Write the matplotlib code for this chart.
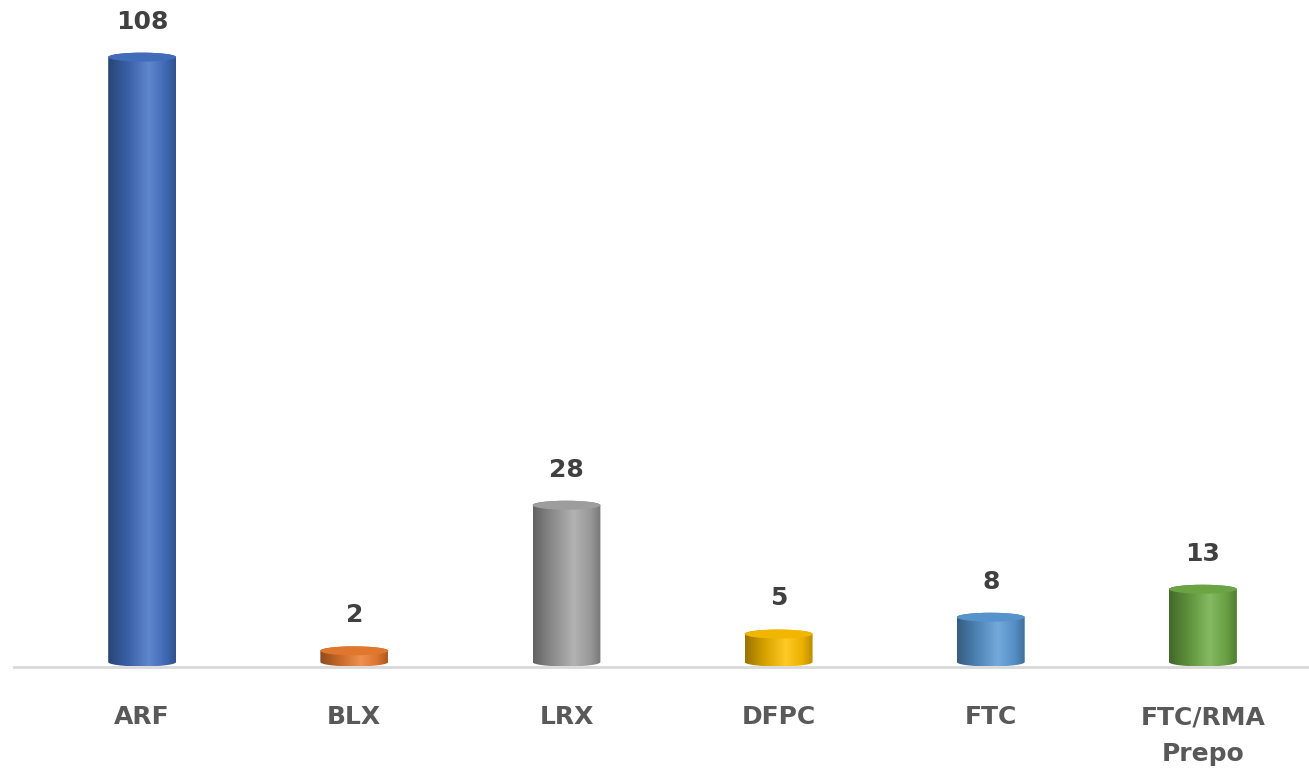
import numpy as np
import matplotlib
matplotlib.use("Agg")
import matplotlib.pyplot as plt
from matplotlib.path import Path
from matplotlib.patches import Ellipse, PathPatch
from matplotlib.colors import LinearSegmentedColormap

categories = ["ARF", "BLX", "LRX", "DFPC", "FTC", "FTC/RMA\nPrepo"]
values = [108, 2, 28, 5, 8, 13]
base_colors = ["#4472C4", "#ED7D31", "#A5A5A5", "#FFC000", "#5B9BD5", "#70AD47"]

W, H = 1309, 773
fig = plt.figure(figsize=(W / 100, H / 100), dpi=100)
ax = fig.add_axes([14 / W, (H - 667) / H, 1295 / W, 667 / H])
ymin, ymax = -0.89, 118.2
xmin, xmax = -0.604, 5.5
ax.set_xlim(xmin, xmax)
ax.set_ylim(ymin, ymax)

bw = 0.32          # bar width in category units
eh = 1.6           # ellipse height in data units


def shade(hexc, f):
    c = np.array(matplotlib.colors.to_rgb(hexc))
    if f < 1:
        return tuple(c * f)
    return tuple(c + (1 - c) * (f - 1))


for i, (v, col) in enumerate(zip(values, base_colors)):
    x0, x1 = i - bw / 2, i + bw / 2
    a, b = bw / 2, eh / 2
    t = np.linspace(np.pi, 2 * np.pi, 60)
    bx = i + a * np.cos(t)
    by = 0 + b * np.sin(t)
    t2 = np.linspace(0, np.pi, 60)
    tx = i + a * np.cos(t2)
    ty = v + b * np.sin(t2)
    verts = [(x0, v), (x0, 0)] + list(zip(bx, by)) + [(x1, 0), (x1, v)] + list(zip(tx, ty))
    path = Path(verts + [verts[0]], [Path.MOVETO] + [Path.LINETO] * (len(verts) - 1) + [Path.CLOSEPOLY])
    cmap = LinearSegmentedColormap.from_list(
        "c%d" % i,
        [(0.0, shade(col, 0.6)), (0.3, shade(col, 0.85)), (0.6, shade(col, 1.15)),
         (0.85, shade(col, 0.92)), (1.0, shade(col, 0.72))])
    grad = np.linspace(0, 1, 256).reshape(1, -1)
    im = ax.imshow(grad, cmap=cmap, extent=(x0, x1, -b, v + b), aspect="auto",
                   origin="lower", zorder=3, interpolation="bilinear")
    patch = PathPatch(path, transform=ax.transData, facecolor="none", edgecolor="none")
    ax.add_patch(patch)
    im.set_clip_path(patch)
    cap = Ellipse((i, v), bw, eh, facecolor=shade(col, 0.95), edgecolor="none",
                  zorder=4)
    ax.add_patch(cap)
    ax.text(i, v + b + 3.4, str(v), ha="center", va="bottom", fontsize=18,
            fontweight="bold", color="#404040", zorder=5)

ax.set_xticks(range(len(categories)))
ax.set_xticklabels(categories, fontsize=18, fontweight="bold", color="#595959",
                   linespacing=1.65)
ax.tick_params(axis="x", length=0, pad=27.5)
ax.set_yticks([])
for s in ["top", "right", "left"]:
    ax.spines[s].set_visible(False)
ax.spines["bottom"].set_color("#d9d9d9")
ax.spines["bottom"].set_linewidth(2)

fig.savefig("out.png", dpi=100)
